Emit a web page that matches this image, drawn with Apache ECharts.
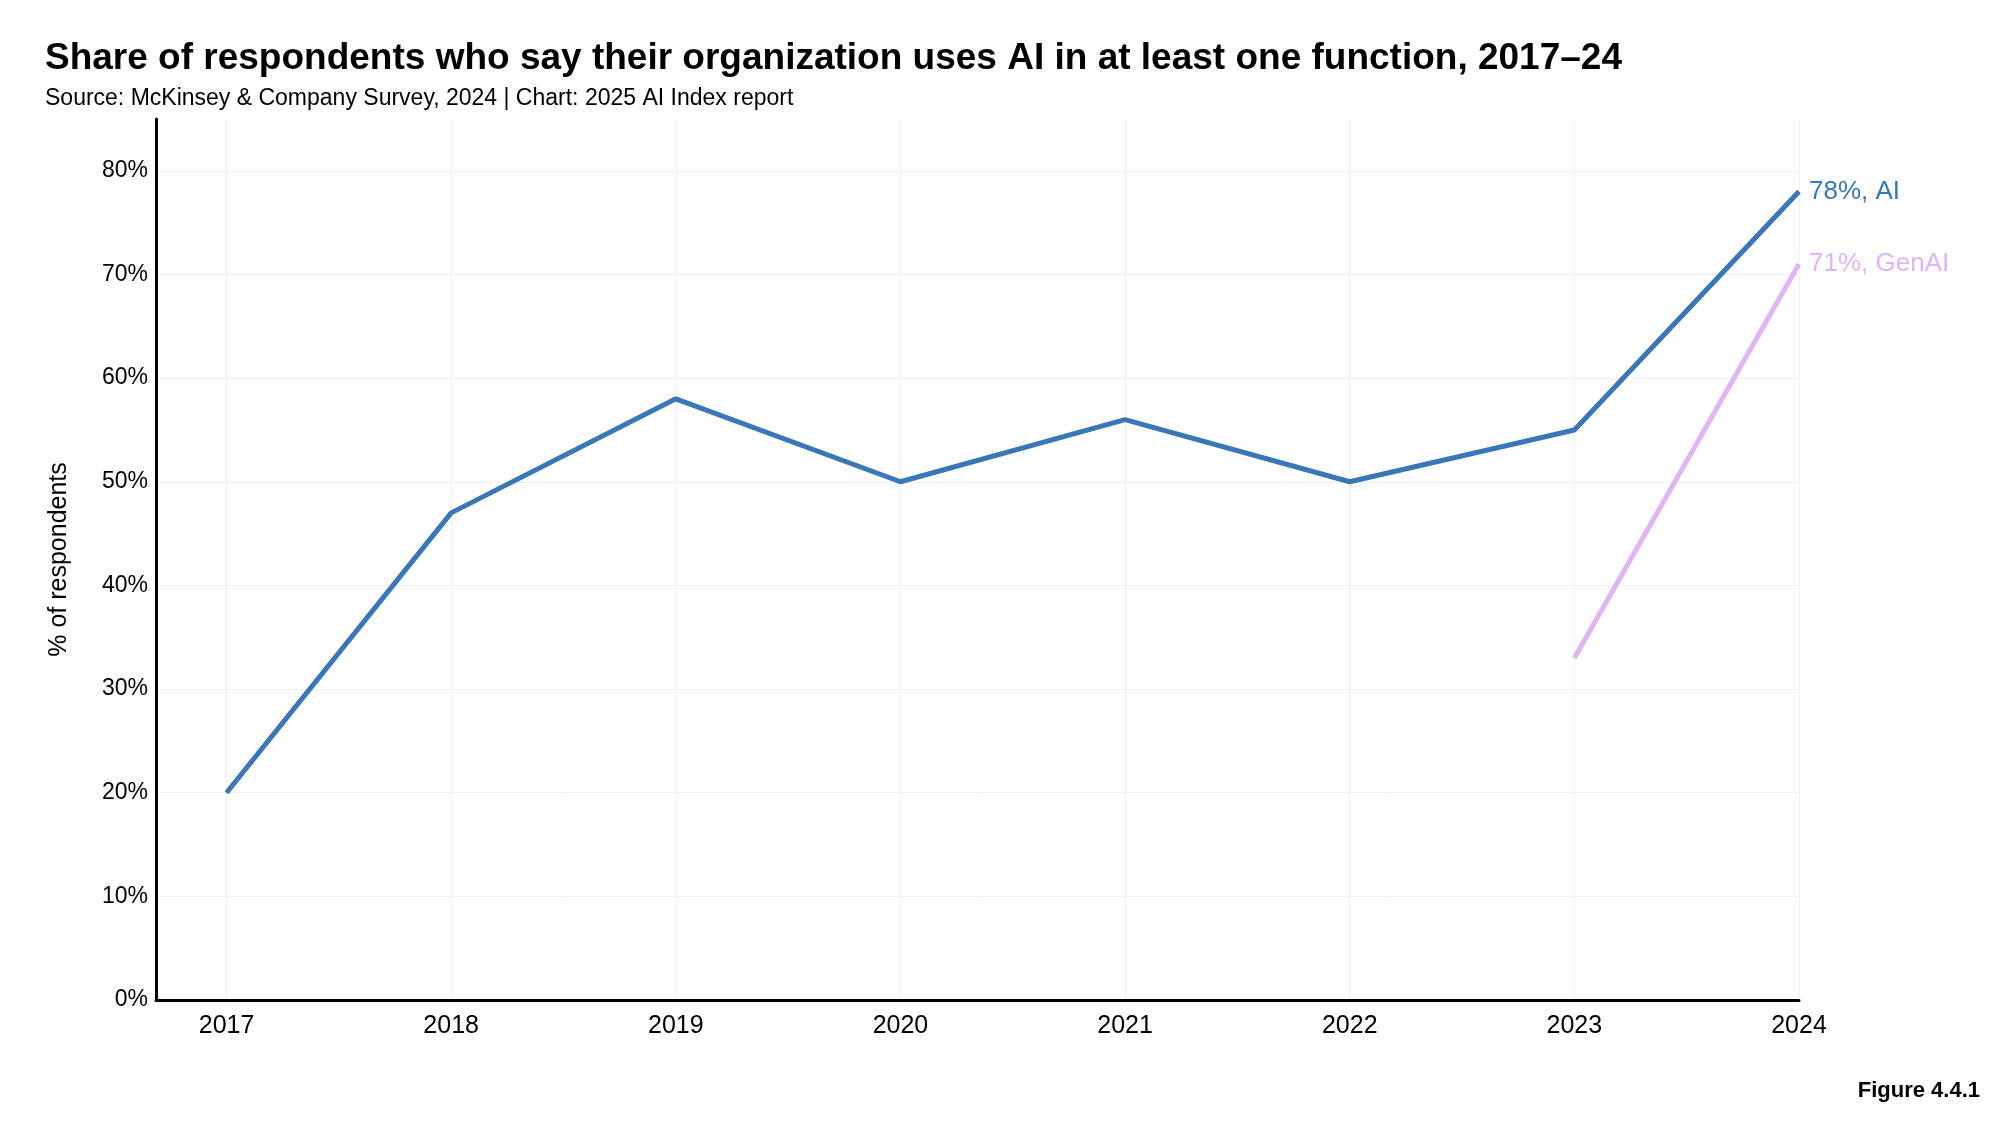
<!DOCTYPE html>
<html>
<head>
<meta charset="utf-8">
<script src="https://cdn.jsdelivr.net/npm/echarts@6/dist/echarts.min.js"></script>
<style>
html,body{margin:0;padding:0;background:#fff;}
#chart{width:2012px;height:1128px;}
</style>
</head>
<body>
<div id="chart"></div>
<script>
const years = [2017, 2018, 2019, 2020, 2021, 2022, 2023, 2024];
const aiValues = [20, 47, 58, 50, 56, 50, 55, 78];
const genAiYears = [2023, 2024];
const genAiValues = [33, 71];
const yTicks = [0, 10, 20, 30, 40, 50, 60, 70, 80];

const FONT = 'Liberation Sans';
const chart = echarts.init(document.getElementById('chart'));
chart.setOption({
  backgroundColor: '#fff',
  animation: false,
  title: {
    text: 'Share of respondents who say their organization uses AI in at least one function, 2017–24',
    subtext: 'Source: McKinsey & Company Survey, 2024 | Chart: 2025 AI Index report',
    left: 45, top: 40, padding: 0, itemGap: 10,
    textStyle: {fontFamily: FONT, fontSize: 37, fontWeight: 'bold', color: '#000'},
    subtextStyle: {fontFamily: FONT, fontSize: 23, color: '#000'}
  },
  graphic: [{
    type: 'text', right: 32, top: 1080,
    style: {text: 'Figure 4.4.1', font: 'bold 22px "Liberation Sans"', fill: '#000'}
  }],
  grid: {left: 156, right: 213, top: 119, bottom: 128},
  xAxis: {
    type: 'value', min: 2016.686, max: 2024,
    axisLine: {show: true, lineStyle: {color: '#000', width: 3}},
    axisTick: {show: false, customValues: years},
    axisLabel: {customValues: years, fontFamily: FONT, fontSize: 25, color: '#000', margin: 14, formatter: v => String(v)},
    splitLine: {show: true, lineStyle: {color: '#f0f0f0', width: 1}}
  },
  yAxis: {
    type: 'value', min: 0, max: 85,
    name: '% of respondents', nameLocation: 'middle', nameGap: 84, nameRotate: 90,
    nameTextStyle: {fontFamily: FONT, fontSize: 25, color: '#000'},
    axisLine: {show: true, lineStyle: {color: '#000', width: 3}},
    axisTick: {show: false, customValues: yTicks},
    axisLabel: {customValues: yTicks, fontFamily: FONT, fontSize: 23, color: '#000', margin: 8, formatter: v => v + '%'},
    splitLine: {show: true, lineStyle: {color: '#f0f0f0', width: 1}}
  },
  series: [
    {
      name: 'AI', type: 'line', showSymbol: false,
      data: years.map((y, i) => [y, aiValues[i]]),
      lineStyle: {color: '#3a77b8', width: 5},
      itemStyle: {color: '#3a77b8'},
      endLabel: {show: true, distance: 10, fontFamily: FONT, fontSize: 26, color: '#3a77b8',
        formatter: p => p.value[1] + '%, AI'}
    },
    {
      name: 'GenAI', type: 'line', showSymbol: false,
      data: genAiYears.map((y, i) => [y, genAiValues[i]]),
      lineStyle: {color: '#e1b4f5', width: 5},
      itemStyle: {color: '#e1b4f5'},
      endLabel: {show: true, distance: 10, fontFamily: FONT, fontSize: 26, color: '#e1b4f5',
        formatter: p => p.value[1] + '%, GenAI'}
    }
  ]
});
</script>
</body>
</html>
